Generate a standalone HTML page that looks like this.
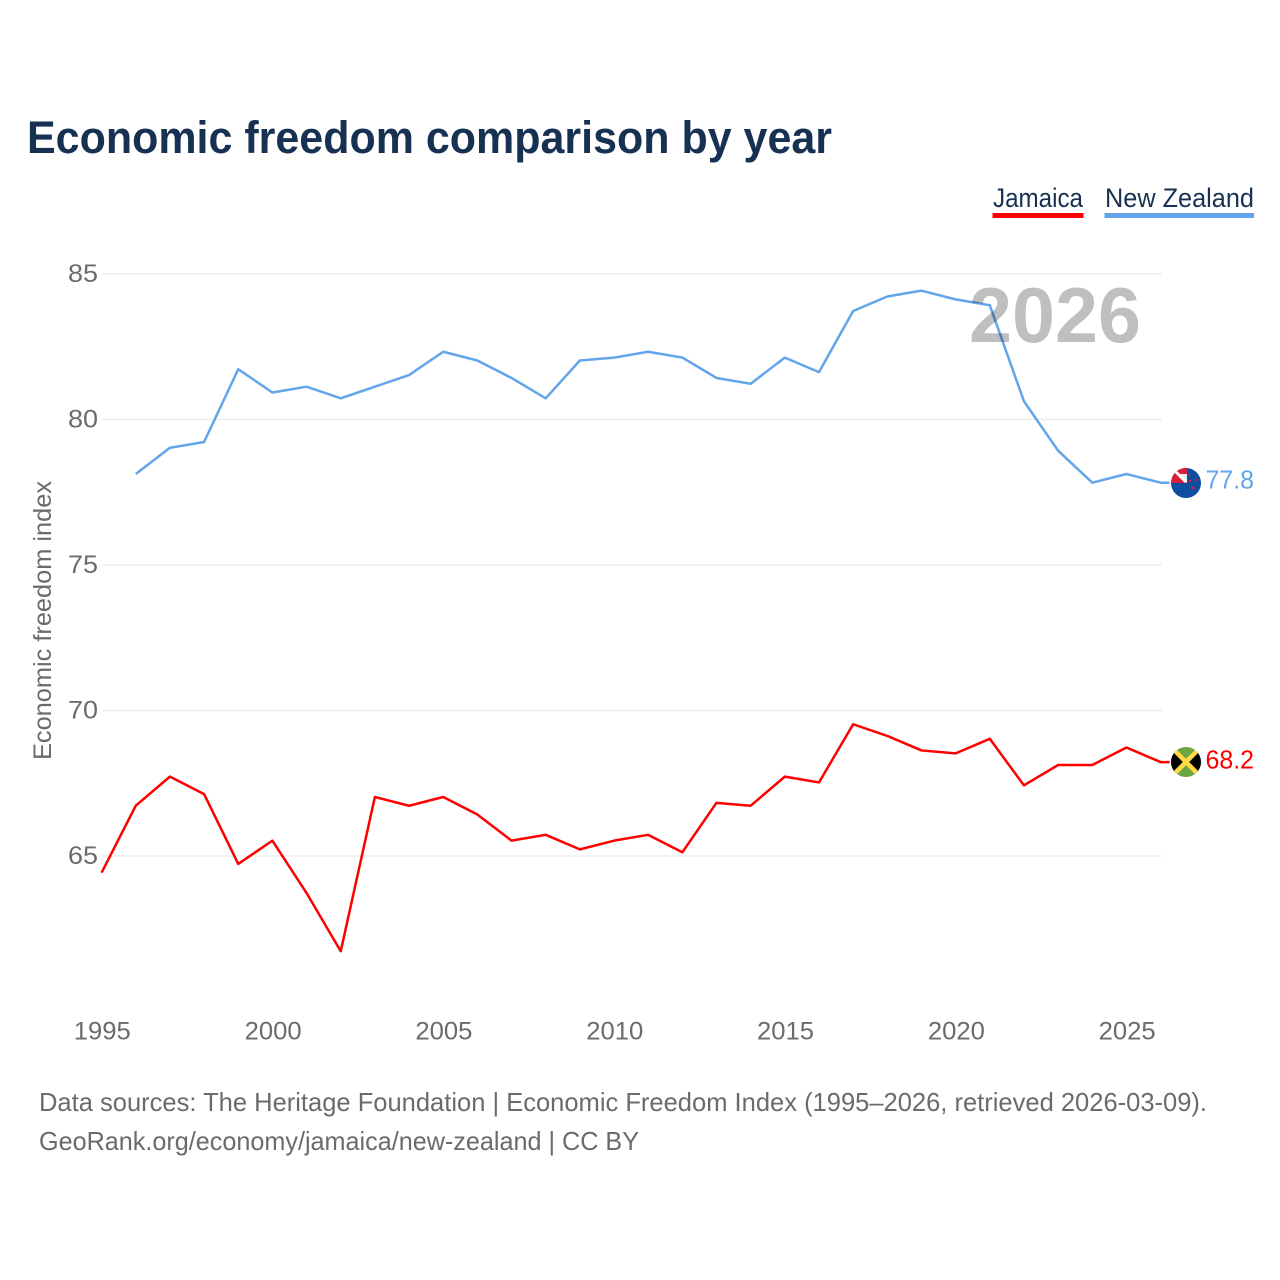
<!DOCTYPE html>
<html lang="en">
<head>
<meta charset="utf-8">
<title>Economic freedom comparison by year</title>
<style>
html,body{margin:0;padding:0;background:#fff;width:1280px;height:1280px;overflow:hidden}
svg{display:block}
text{font-family:"Liberation Sans",sans-serif}
</style>
</head>
<body>
<svg id="chart" xmlns="http://www.w3.org/2000/svg" width="1280" height="1280" viewBox="0 0 1280 1280">
  <defs>
    <clipPath id="nz-clip"><circle cx="1186" cy="483" r="15"/></clipPath>
    <clipPath id="jm-clip"><circle cx="1186" cy="762" r="15"/></clipPath>
  </defs>
  <text x="27" y="153" font-size="45" font-weight="700" fill="#173152" textLength="805" lengthAdjust="spacingAndGlyphs">Economic freedom comparison by year</text>

  <g>
    <g>
      <text x="993" y="207" font-size="27" fill="#173152" textLength="90" lengthAdjust="spacingAndGlyphs">Jamaica</text>
      <rect x="992.5" y="213" width="91" height="5" fill="#ff0000"/>
    </g>
    <g>
      <text x="1105" y="207" font-size="27" fill="#173152" textLength="149" lengthAdjust="spacingAndGlyphs">New Zealand</text>
      <rect x="1104.5" y="213" width="149.5" height="5" fill="#62a5eb"/>
    </g>
  </g>

  <g id="grid"></g>
  <g id="y-axis"></g>
  <g id="x-axis"></g>
  <text transform="translate(51,760) rotate(-90)" font-size="25" fill="#6b6b6b" textLength="279" lengthAdjust="spacingAndGlyphs">Economic freedom index</text>

  <g id="series" transform="translate(-0.4,-0.8)"></g>

  <text x="969" y="342" font-size="78" font-weight="700" fill="#000" fill-opacity="0.25" textLength="172" lengthAdjust="spacingAndGlyphs">2026</text>

  <g clip-path="url(#nz-clip)">
    <rect x="1171" y="468" width="30" height="30" fill="#0b4ea2"/>
    <rect x="1172" y="468" width="15" height="15" fill="#d8203a"/>
    <path d="M1178 474H1187V483Z" fill="#e8eef6"/>
    <path d="M1174 470L1186 482" stroke="#fff" stroke-width="3"/>
    <circle cx="1190" cy="481" r="1.4" fill="#d8203a"/>
    <circle cx="1197" cy="480" r="1.2" fill="#d8203a"/>
    <circle cx="1193" cy="488" r="1.6" fill="#d8203a"/>
    <circle cx="1189" cy="475" r="1.1" fill="#d8203a"/>
  </g>
  <g clip-path="url(#jm-clip)">
    <rect x="1171" y="747" width="30" height="30" fill="#6da544"/>
    <path d="M1171 747L1186 762L1171 777Z" fill="#000"/>
    <path d="M1201 747L1186 762L1201 777Z" fill="#000"/>
    <path d="M1171 747L1201 777M1201 747L1171 777" stroke="#ffda44" stroke-width="4.5"/>
  </g>
  <text id="label-nz" x="1205.5" y="488.5" font-size="26" fill="#62a5eb" textLength="48.5" lengthAdjust="spacingAndGlyphs"></text>
  <text id="label-jm" x="1205.5" y="768.5" font-size="26" fill="#ff0000" textLength="48.5" lengthAdjust="spacingAndGlyphs"></text>

  <text x="39" y="1111" font-size="26" fill="#6b6b6b" textLength="1168" lengthAdjust="spacingAndGlyphs">Data sources: The Heritage Foundation | Economic Freedom Index (1995–2026, retrieved 2026-03-09).</text>
  <text x="39" y="1150" font-size="26" fill="#6b6b6b" textLength="600" lengthAdjust="spacingAndGlyphs">GeoRank.org/economy/jamaica/new-zealand | CC BY</text>
</svg>
<script>
const jamaicaYears = [1995,1996,1997,1998,1999,2000,2001,2002,2003,2004,2005,2006,2007,2008,2009,2010,2011,2012,2013,2014,2015,2016,2017,2018,2019,2020,2021,2022,2023,2024,2025,2026];
const jamaicaValues = [64.4,66.7,67.7,67.1,64.7,65.5,63.7,61.7,67.0,66.7,67.0,66.4,65.5,65.7,65.2,65.5,65.7,65.1,66.8,66.7,67.7,67.5,69.5,69.1,68.6,68.5,69.0,67.4,68.1,68.1,68.7,68.2];
const newZealandYears = [1996,1997,1998,1999,2000,2001,2002,2003,2004,2005,2006,2007,2008,2009,2010,2011,2012,2013,2014,2015,2016,2017,2018,2019,2020,2021,2022,2023,2024,2025,2026];
const newZealandValues = [78.1,79.0,79.2,81.7,80.9,81.1,80.7,81.1,81.5,82.3,82.0,81.4,80.7,82.0,82.1,82.3,82.1,81.4,81.2,82.1,81.6,83.7,84.2,84.4,84.1,83.9,80.6,78.9,77.8,78.1,77.8];
const yTicks = [65,70,75,80,85];
const xTicks = [1995,2000,2005,2010,2015,2020,2025];

const SVG_NS = 'http://www.w3.org/2000/svg';
function xScale(year){ return 102 + (year - 1995) * (1161 - 102) / 31; }
function yScale(value){ return 856 - (value - 65) * (856 - 274) / 20; }
function make(tag, attrs, parent){
  const el = document.createElementNS(SVG_NS, tag);
  for (const k in attrs) el.setAttribute(k, attrs[k]);
  parent.appendChild(el);
  return el;
}

const grid = document.getElementById('grid');
const yAxis = document.getElementById('y-axis');
const xAxis = document.getElementById('x-axis');
const series = document.getElementById('series');

yTicks.forEach(function(t){
  const line = make('line', {x1:102, x2:1162, y1:yScale(t), y2:yScale(t), stroke:'#eeeeee', 'stroke-width':1.5}, grid);
  
  
  const label = make('text', {x:68, y:yScale(t)+8, 'font-size':25, fill:'#6b6b6b', textLength:30, lengthAdjust:'spacingAndGlyphs'}, yAxis);
  
  
  label.textContent = t;
});

xTicks.forEach(function(t){
  const label = make('text', {x:xScale(t)+0.3, y:1039.5, 'text-anchor':'middle', 'font-size':25, fill:'#6b6b6b', textLength:57, lengthAdjust:'spacingAndGlyphs'}, xAxis);
  
  
  label.textContent = t;
});

function pathFor(years, values){
  const last = values.length - 1;
  const main = values.map(function(v, i){
    return (i ? 'L' : 'M') + xScale(years[i]).toFixed(2) + ' ' + yScale(v).toFixed(2);
  }).join('');
  return main + 'L' + (xScale(years[last]) + 9).toFixed(2) + ' ' + yScale(values[last]).toFixed(2);
}

const jamaicaLine = make('path', {d:pathFor(jamaicaYears, jamaicaValues), fill:'none', stroke:'#ff0000', 'stroke-width':2.5, 'stroke-linejoin':'round'}, series);



const newZealandLine = make('path', {d:pathFor(newZealandYears, newZealandValues), fill:'none', stroke:'#62a5eb', 'stroke-width':2.5, 'stroke-linejoin':'round'}, series);



document.getElementById('label-nz').textContent = newZealandValues[newZealandValues.length-1].toFixed(1);
document.getElementById('label-jm').textContent = jamaicaValues[jamaicaValues.length-1].toFixed(1);
</script>
</body>
</html>
